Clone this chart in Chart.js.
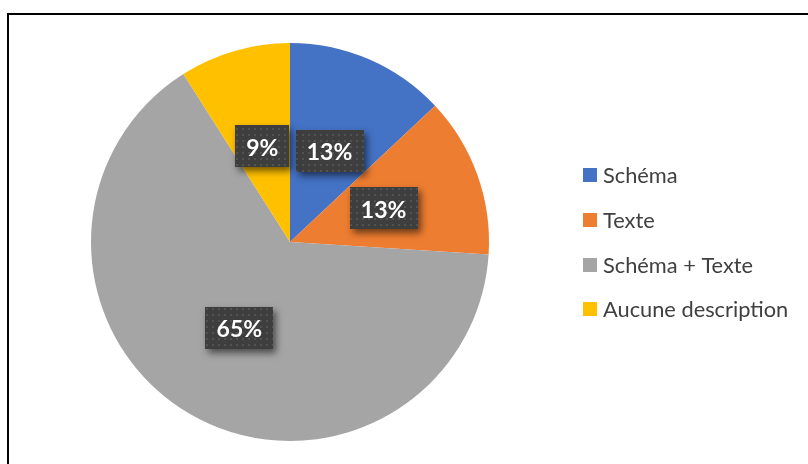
<!DOCTYPE html>
<html><head><meta charset="utf-8">
<script src="https://cdn.jsdelivr.net/npm/chart.js@4/dist/chart.umd.min.js"></script>
<style>
html,body{margin:0;padding:0;background:#fff;width:808px;height:464px;overflow:hidden;}
#wrap{position:relative;width:808px;height:464px;}
#frame{position:absolute;left:7px;top:13px;width:820px;height:470px;border-top:2px solid #000;border-left:2px solid #000;box-sizing:border-box;pointer-events:none;}
canvas{position:absolute;left:0;top:0;}
</style></head>
<body><div id="wrap"><canvas id="c" width="808" height="464"></canvas><div id="frame"></div></div>
<script>
const categories = ["Schéma", "Texte", "Schéma + Texte", "Aucune description"];
const shares = [13, 13, 65, 9];
const percentLabels = ["13%", "13%", "65%", "9%"];
const colors = ["#4472C4", "#ED7D31", "#A5A5A5", "#FFC000"];

function makePattern(ctx){
  const p = document.createElement('canvas');
  p.width = 6; p.height = 6;
  const g = p.getContext('2d');
  g.fillStyle = '#3e3e3e'; g.fillRect(0,0,6,6);
  g.fillStyle = '#525252'; g.fillRect(2,2,2,2);
  return ctx.createPattern(p,'repeat');
}

const labelPlugin = {
  id:'boxLabels',
  afterDatasetsDraw(chart){
    const ctx = chart.ctx;
    const meta = chart.getDatasetMeta(0);
    const pat = makePattern(ctx);
    ctx.save();
    ctx.font = 'bold 23px Lato';
    meta.data.forEach((arc,i)=>{
      const pt = arc.getCenterPoint();
      const txt = percentLabels[i];
      const w = Math.round(ctx.measureText(txt).width + 22);
      const h = 42;
      const x = Math.round(pt.x - w/2), y = Math.round(pt.y - h/2);
      ctx.save();
      ctx.shadowColor = 'rgba(0,0,0,0.55)';
      ctx.shadowBlur = 7; ctx.shadowOffsetX = 3; ctx.shadowOffsetY = 4;
      ctx.fillStyle = '#3e3e3e';
      ctx.fillRect(x,y,w,h);
      ctx.restore();
      ctx.fillStyle = pat;
      ctx.fillRect(x,y,w,h);
      ctx.fillStyle = '#ffffff';
      ctx.textAlign = 'center'; ctx.textBaseline = 'middle';
      ctx.fillText(txt, pt.x, pt.y + 2);
    });
    ctx.restore();
  }
};

const legendPlugin = {
  id:'sideLegend',
  afterDraw(chart){
    const ctx = chart.ctx;
    const ds = chart.data.datasets[0];
    ctx.save();
    let size = 17;
    ctx.font = size + 'px Lato';
    const wRef = ctx.measureText(categories[3]).width;
    size = Math.round(size * 185 / wRef * 10) / 10;
    ctx.font = size + 'px Lato';
    ctx.textBaseline = 'middle';
    chart.data.labels.forEach((lab,i)=>{
      const cy = 175 + i*44.8;
      ctx.fillStyle = ds.backgroundColor[i];
      ctx.fillRect(583, Math.round(cy-7), 14, 14);
      ctx.fillStyle = '#404040';
      ctx.fillText(lab, 603, cy+1);
    });
    ctx.restore();
  }
};

new Chart(document.getElementById('c'), {
  type:'pie',
  data:{ labels: categories, datasets:[{ data: shares, backgroundColor: colors, borderWidth:0 }] },
  options:{
    responsive:false, animation:false,
    layout:{ padding:{ left:91, top:43, bottom:23, right:319 } },
    plugins:{ legend:{display:false}, tooltip:{enabled:false} }
  },
  plugins:[labelPlugin, legendPlugin]
});
</script></body></html>
